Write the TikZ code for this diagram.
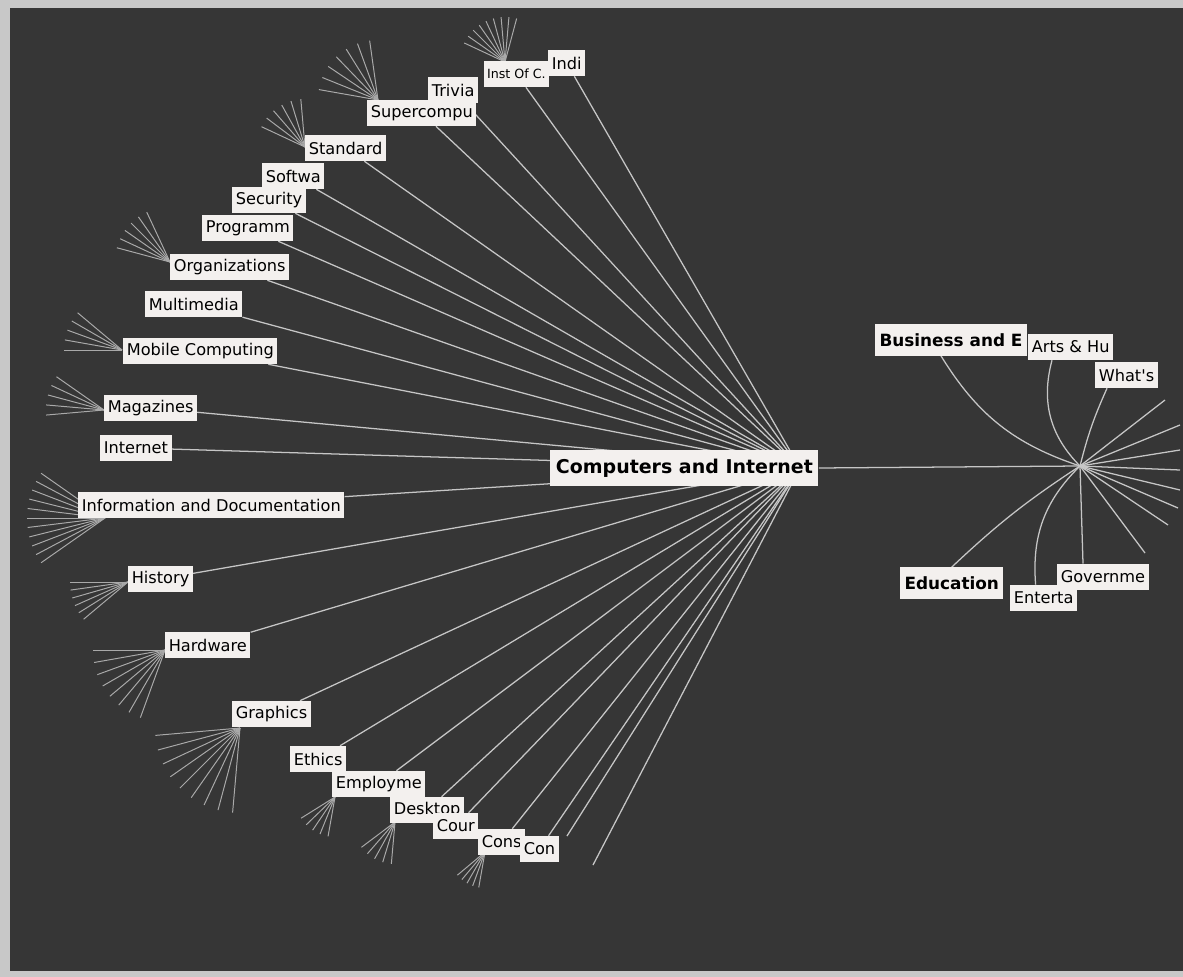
\documentclass[tikz,border=0pt]{standalone}
\usepackage{fontspec}
\newfontfamily\treefont{DejaVu Sans}
\definecolor{screen}{HTML}{363636}
\definecolor{bezel}{HTML}{C8C8C8}
\definecolor{paper}{HTML}{F3F0EE}
\definecolor{linegray}{HTML}{C6C6C6}
\pgfdeclarelayer{back}
\pgfdeclarelayer{edges}
\pgfsetlayers{back,edges,main}
\begin{document}
\begin{tikzpicture}[x=0.025cm,y=-0.025cm,
        topic/.style={fill=paper,text=black,anchor=west,inner xsep=2.5pt,inner ysep=0pt,minimum height=0.65cm,font=\treefont\fontsize{11.5}{12}\selectfont},
        small/.style={topic,inner xsep=2pt,font=\treefont\fontsize{9}{10}\selectfont},
        head/.style={topic,inner xsep=3pt,minimum height=0.78cm,font=\treefont\bfseries\fontsize{12}{13}\selectfont},
        root/.style={topic,inner xsep=4pt,minimum height=0.92cm,font=\treefont\bfseries\fontsize{13.5}{15}\selectfont},
        link/.style={draw=linegray,line width=0.9pt},
        twig/.style={draw=linegray!80!screen,line width=0.7pt}
      ]
      \useasboundingbox (0,0) rectangle (1183,977);
      \begin{pgfonlayer}{back}
        \fill[bezel] (0,0) rectangle (1183,977);
        \fill[screen] (10,8) rectangle (1183,971);
      \end{pgfonlayer}

      \node[root] (comp) at (550,468) {Computers and Internet};

      \node[small] (instc) at (484,74) {Inst Of C.};
      \node[topic] (indi) at (548,63) {Indi};
      \node[topic] (supercomp) at (367,113) {Supercompu};
      \node[topic] (trivia) at (428,90) {Trivia};
      \node[topic] (standard) at (305,148) {Standard};
      \node[topic] (softwa) at (262,176) {Softwa};
      \node[topic] (security) at (232,200) {Security};
      \node[topic] (programm) at (202,228) {Programm};
      \node[topic] (organiz) at (170,267) {Organizations};
      \node[topic] (multimedia) at (145,304) {Multimedia};
      \node[topic] (mobile) at (123,351) {Mobile Computing};
      \node[topic] (magazines) at (104,408) {Magazines};
      \node[topic] (internet) at (100,448) {Internet};
      \node[topic] (infodoc) at (78,505) {Information and Documentation};
      \node[topic] (history) at (128,579) {History};
      \node[topic] (hardware) at (165,645) {Hardware};
      \node[topic] (graphics) at (232,714) {Graphics};
      \node[topic] (ethics) at (290,759) {Ethics};
      \node[topic] (employme) at (332,784) {Employme};
      \node[topic] (desktop) at (390,810) {Desktop};
      \node[topic] (cour) at (433,826) {Cour};
      \node[topic] (cons) at (478,842) {Cons};
      \node[topic] (con) at (520,849) {Con};

      \node[head] (business) at (875,340) {Business and E};
      \node[topic] (arts) at (1028,347) {Arts \& Hu};
      \node[topic] (whats) at (1095,375) {What's};
      \node[head] (education) at (900,583) {Education};
      \node[topic] (governme) at (1057,577) {Governme};
      \node[topic] (enterta) at (1010,598) {Enterta};

      \coordinate (hubL) at (800,468);
      \coordinate (hubR) at (1080,466);
      \coordinate (loose1) at (567,836);
      \coordinate (loose2) at (593,865);
      \foreach \i/\x/\y in {1/1165/400,2/1180/425,3/1180/450,4/1180/470,5/1180/490,6/1178/508,7/1168/525,8/1145/553}
        \coordinate (spoke\i) at (\x,\y);

      \coordinate (f-instc) at (505,62);
      \coordinate (f-super) at (378,100);
      \coordinate (f-stand) at (305,147);
      \coordinate (f-organ) at (170,262);
      \coordinate (f-mobile) at (122,350);
      \coordinate (f-magaz) at (104,410);
      \coordinate (f-info) at (105,518);
      \coordinate (f-hist) at (128,582);
      \coordinate (f-hard) at (165,650);
      \coordinate (f-graph) at (240,728);
      \coordinate (f-employ) at (335,797);
      \coordinate (f-desk) at (395,822);
      \coordinate (f-cons) at (485,852);

      \begin{pgfonlayer}{edges}
        \foreach \n in {indi,instc,trivia,supercomp,standard,softwa,security,programm,organiz,multimedia,mobile,magazines,internet,infodoc,history,hardware,graphics,ethics,employme,desktop,cour,cons,con,loose1,loose2}
          \draw[link] (hubL) -- (\n);
        \draw[link] (comp.east) -- (hubR);
        \draw[link] (hubR) to[bend left=20] ([xshift=-0.25cm]business.south);
        \draw[link] (hubR) to[bend left=30] ([xshift=0.6cm]arts.south west);
        \draw[link] (hubR) to[bend left=5] ([xshift=0.3cm]whats.south west);
        \draw[link] (hubR) to[bend right=5] (education.north);
        \draw[link] (hubR) to[bend right=25] ([xshift=-0.2cm]enterta.north);
        \draw[link] (hubR) -- ([xshift=0.65cm]governme.north west);
        \foreach \i in {1,...,8}
          \draw[link] (hubR) -- (spoke\i);

        \foreach \a in {205,215,...,285} \draw[twig] (f-instc) -- ++(\a:45);
        \foreach \a in {190,202,...,262} \draw[twig] (f-super) -- ++(\a:60);
        \foreach \a in {205,217,...,265} \draw[twig] (f-stand) -- ++(\a:48);
        \foreach \a in {195,205,...,245} \draw[twig] (f-organ) -- ++(\a:55);
        \foreach \a in {180,190,...,220} \draw[twig] (f-mobile) -- ++(\a:58);
        \foreach \a in {175,185,...,215} \draw[twig] (f-magaz) -- ++(\a:58);
        \foreach \a in {145,152,...,215} \draw[twig] (f-info) -- ++(\a:78);
        \foreach \a in {140,148,...,180} \draw[twig] (f-hist) -- ++(\a:58);
        \foreach \a in {110,120,...,180} \draw[twig] (f-hard) -- ++(\a:72);
        \foreach \a in {95,105,...,175} \draw[twig] (f-graph) -- ++(\a:85);
        \foreach \a in {100,112,...,148} \draw[twig] (f-employ) -- ++(\a:40);
        \foreach \a in {95,107,...,143} \draw[twig] (f-desk) -- ++(\a:42);
        \foreach \a in {100,110,...,140} \draw[twig] (f-cons) -- ++(\a:36);
      \end{pgfonlayer}
    \end{tikzpicture}
\end{document}
